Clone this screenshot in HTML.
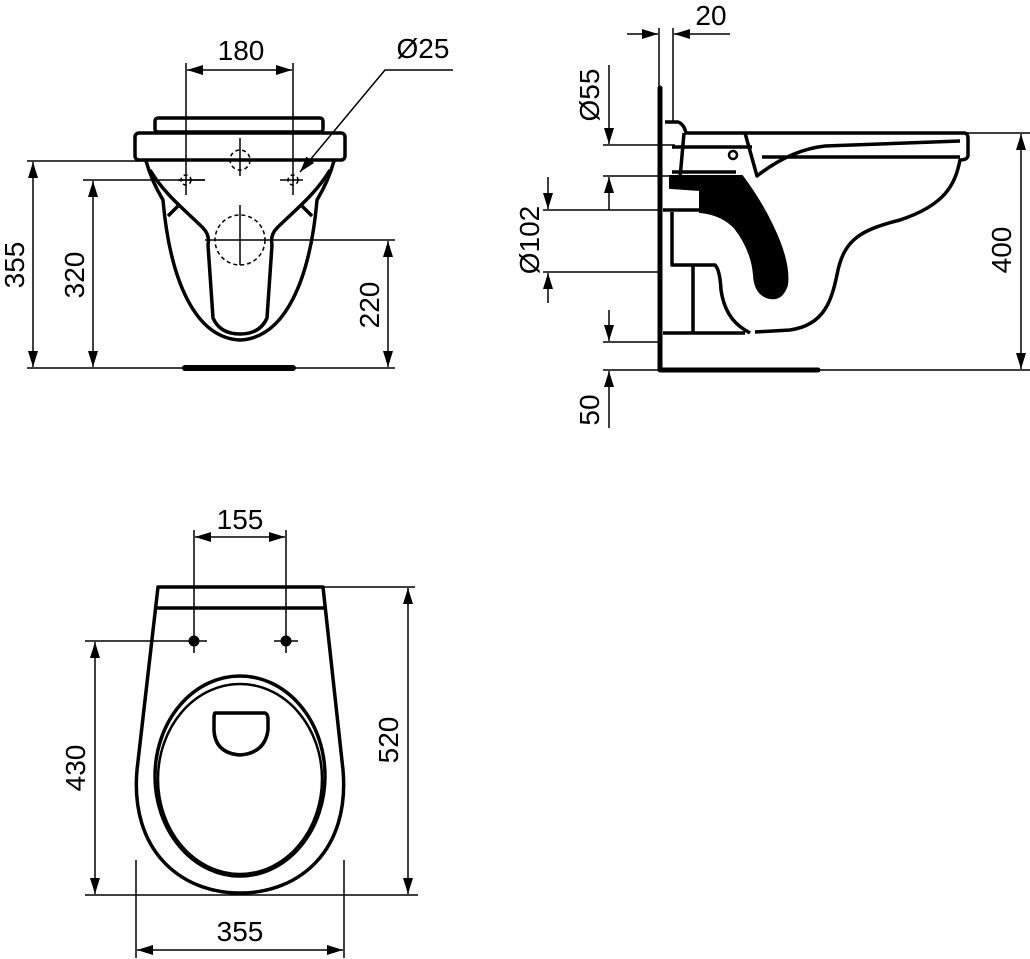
<!DOCTYPE html>
<html><head><meta charset="utf-8"><style>
html,body{margin:0;padding:0;background:#fff}
svg{display:block}
text{font-family:"Liberation Sans",Arial,sans-serif;font-size:28px;fill:#000}
</style></head><body>
<svg width="1030" height="959" viewBox="0 0 1030 959" xmlns="http://www.w3.org/2000/svg">
<defs>
<marker id="a" viewBox="0 0 16 10" refX="16" refY="5" markerWidth="16" markerHeight="10" markerUnits="userSpaceOnUse" orient="auto-start-reverse">
<path d="M0,0 L16,5 L0,10 Z" fill="#000"/></marker>
</defs>
<g fill="none" stroke="#000">
<!-- ===== FRONT VIEW ===== -->
<g stroke-width="3.5" stroke-linejoin="round">
<rect x="155" y="118" width="168" height="14" rx="3"/>
<rect x="135" y="133" width="210" height="27" rx="4"/>
<path d="M146,161 C152,182 160,195 163,200 C170,280 195,338 240,340 C285,338 310,280 317,200 C320,195 328,182 334,161"/>
<path d="M150,170 C165,195 185,210 203,228 Q210,235 208,245 L213,318 Q220,334 240,334 Q260,334 267,318 L272,245 Q270,235 277,228 C295,210 315,195 330,170"/>
<path d="M168,216 L180,204 M312,216 L300,204"/>
</g>
<g stroke-width="1.5" stroke-dasharray="4,3">
<circle cx="240" cy="160" r="10"/>
<circle cx="240" cy="240" r="25"/>
<circle cx="186" cy="180" r="5"/>
<circle cx="293" cy="180" r="5"/>
</g>
<g stroke-width="1.5">
<path d="M240,138 V176 M240,205 V265 M178,180 H205 M280,180 H303"/>
<line x1="186" y1="63" x2="186" y2="195"/>
<line x1="293" y1="63" x2="293" y2="195"/>
<line x1="187" y1="70" x2="292" y2="70" marker-start="url(#a)" marker-end="url(#a)"/>
<polyline points="453,70 385,70 300,172" marker-end="url(#a)"/>
<line x1="27" y1="161" x2="140" y2="161"/>
<line x1="27" y1="368" x2="395" y2="368"/>
<line x1="33" y1="162" x2="33" y2="367" marker-start="url(#a)" marker-end="url(#a)"/>
<line x1="83" y1="180" x2="205" y2="180"/>
<line x1="93" y1="181" x2="93" y2="367" marker-start="url(#a)" marker-end="url(#a)"/>
<line x1="205" y1="240" x2="395" y2="240"/>
<line x1="388" y1="241" x2="388" y2="367" marker-start="url(#a)" marker-end="url(#a)"/>
</g>
<line x1="185" y1="368" x2="293" y2="368" stroke-width="6" stroke-linecap="round"/>

<!-- ===== SIDE VIEW ===== -->
<g stroke-width="5" stroke-linecap="round" stroke-linejoin="round">
<polyline points="660,88 660,370 818,370"/>
</g>
<g stroke-width="3.5" stroke-linejoin="round">
<path d="M665,122 L678,122 Q684,124 686,133 L965,133 Q968,134 968,138 L968,156 Q967,160 960,160 L960,160 C955,185 945,205 900,220 C860,230 845,240 838,270 C832,300 825,325 790,330 L755,332"/>
<path d="M684,133 L680,178"/>
<path d="M672,147 H752 M672,172 H736"/>
<path d="M960,157 L762,157 M745,133 L757,176 Q790,150 825,146 L960,141"/>
<path d="M663,210 L700,210 M672,212 L672,265 L715,265 Q720,270 721,290 Q725,318 745,330 L750,333 M693,265 L693,332"/>
<path d="M663,333 L745,333"/>
</g>
<circle cx="733" cy="155" r="4" stroke-width="2.5"/>
<path d="M670,176 L742,176 Q760,200 772,225 Q790,262 787,285 Q782,300 770,298 Q755,295 754,275 Q752,250 735,228 Q722,214 700,212 L700,190 L670,188 Z" fill="#000" stroke="#000" stroke-width="2"/>
<g stroke-width="1.5">
<line x1="659" y1="28" x2="659" y2="88"/>
<line x1="673" y1="28" x2="673" y2="122"/>
<line x1="627" y1="34" x2="658" y2="34" marker-end="url(#a)"/>
<line x1="730" y1="34" x2="674" y2="34" marker-end="url(#a)"/>
<line x1="603" y1="145" x2="675" y2="145"/>
<line x1="603" y1="176" x2="675" y2="176"/>
<line x1="609" y1="65" x2="609" y2="144" marker-end="url(#a)"/>
<line x1="609" y1="210" x2="609" y2="177" marker-end="url(#a)"/>
<line x1="543" y1="210" x2="660" y2="210"/>
<line x1="543" y1="272" x2="660" y2="272"/>
<line x1="548" y1="177" x2="548" y2="209" marker-end="url(#a)"/>
<line x1="548" y1="303" x2="548" y2="273" marker-end="url(#a)"/>
<line x1="603" y1="342" x2="660" y2="342"/>
<line x1="603" y1="370" x2="660" y2="370"/>
<line x1="609" y1="310" x2="609" y2="341" marker-end="url(#a)"/>
<line x1="609" y1="428" x2="609" y2="371" marker-end="url(#a)"/>
<line x1="960" y1="133" x2="1030" y2="133"/>
<line x1="818" y1="370" x2="1030" y2="370"/>
<line x1="1021" y1="134" x2="1021" y2="369" marker-start="url(#a)" marker-end="url(#a)"/>
</g>

<!-- ===== TOP VIEW ===== -->
<g stroke-width="3.5" stroke-linejoin="round">
<path d="M158,587 L323,587 L343,770 C350,850 300,893 240,893 C180,893 130,850 137,770 Z"/>
<line x1="157" y1="608" x2="325" y2="608"/>
<ellipse cx="240" cy="776" rx="85" ry="100"/>
<ellipse cx="240" cy="779" rx="82" ry="95" stroke-width="2.5"/>
<path d="M215,713 L265,713 Q268,714 268,720 L268,730 Q265,753 240,755 Q215,753 214,730 L214,720 Q214,713 215,713 Z"/>
</g>
<circle cx="194" cy="641" r="5" fill="#000"/>
<circle cx="286" cy="641" r="5" fill="#000"/>
<g stroke-width="1.5">
<line x1="194" y1="530" x2="194" y2="653"/>
<line x1="286" y1="530" x2="286" y2="653"/>
<line x1="274" y1="641" x2="298" y2="641"/>
<line x1="195" y1="537" x2="285" y2="537" marker-start="url(#a)" marker-end="url(#a)"/>
<line x1="85" y1="641" x2="207" y2="641"/>
<line x1="85" y1="895" x2="418" y2="895"/>
<line x1="95" y1="642" x2="95" y2="894" marker-start="url(#a)" marker-end="url(#a)"/>
<line x1="323" y1="587" x2="415" y2="587"/>
<line x1="408" y1="588" x2="408" y2="894" marker-start="url(#a)" marker-end="url(#a)"/>
<line x1="136" y1="860" x2="136" y2="958"/>
<line x1="344" y1="860" x2="344" y2="958"/>
<line x1="137" y1="950" x2="343" y2="950" marker-start="url(#a)" marker-end="url(#a)"/>
</g>
</g>

<!-- TEXT -->
<text x="241" y="60" text-anchor="middle">180</text>
<text x="423" y="58" text-anchor="middle">Ø25</text>
<text transform="translate(24,265) rotate(-90)" text-anchor="middle">355</text>
<text transform="translate(84,275) rotate(-90)" text-anchor="middle">320</text>
<text transform="translate(379,305) rotate(-90)" text-anchor="middle">220</text>
<text x="711" y="25" text-anchor="middle">20</text>
<text transform="translate(599,95) rotate(-90)" text-anchor="middle">Ø55</text>
<text transform="translate(539,240) rotate(-90)" text-anchor="middle">Ø102</text>
<text transform="translate(599,410) rotate(-90)" text-anchor="middle">50</text>
<text transform="translate(1011,250) rotate(-90)" text-anchor="middle">400</text>
<text x="240" y="529" text-anchor="middle">155</text>
<text transform="translate(85,768) rotate(-90)" text-anchor="middle">430</text>
<text transform="translate(398,740) rotate(-90)" text-anchor="middle">520</text>
<text x="240" y="941" text-anchor="middle">355</text>
</svg>
</body></html>
